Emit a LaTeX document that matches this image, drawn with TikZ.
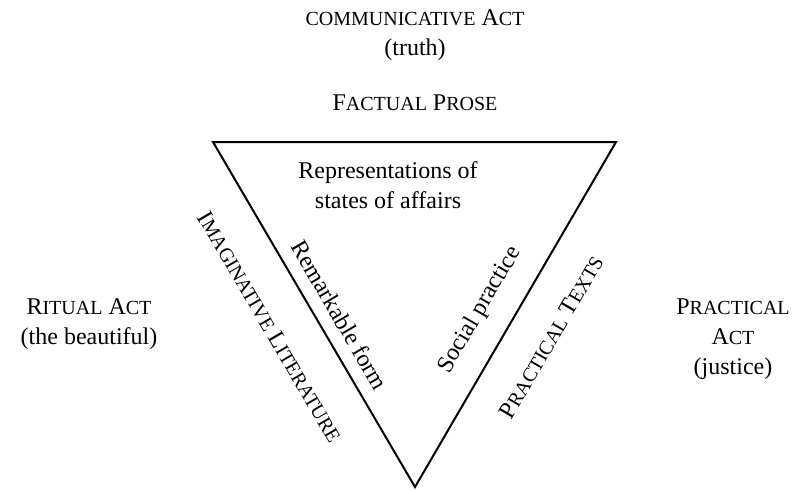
\documentclass[tikz,border=0pt]{standalone}
\usepackage{fontspec}
\setmainfont{Liberation Serif}
% small capitals built from reduced upper-case letters
\newcommand\sml[1]{{\fontsize{20}{30}\selectfont #1}}
\begin{document}
\begin{tikzpicture}[x=1pt,y=-1pt,
  lbl/.style={inner sep=0pt,align=center,font=\fontsize{24}{30}\selectfont},
  edge/.style={line width=2pt,line join=miter}]
\useasboundingbox (0,0) rectangle (795,490);
% triangle corners
\coordinate (tl) at (213,142);
\coordinate (tr) at (616,142);
\coordinate (bt) at (415,487);
\draw[edge] (tl) -- (tr) -- (bt) -- cycle;
% the three acts
\node[lbl] (comm) at (415,35) {\sml{COMMUNICATIVE} A\sml{CT}\\(truth)};
\node[lbl] (ritual) at (89,324) {R\sml{ITUAL} A\sml{CT}\\(the beautiful)};
\node[lbl] (pract) at (733,339) {P\sml{RACTICAL}\\A\sml{CT}\\(justice)};
% text kinds on the sides
\node[lbl] (fact) at (415,103) {F\sml{ACTUAL} P\sml{ROSE}};
\node[lbl,rotate=-59.7] (imag) at (270,327) {I\sml{MAGINATIVE} L\sml{ITERATURE}};
\node[lbl,rotate=59.7] (ptext) at (551,337) {P\sml{RACTICAL} T\sml{EXTS}};
% inner labels
\node[lbl] (repr) at (388,185) {Representations of\\states of affairs};
\node[lbl,rotate=-59.7] (form) at (340,315) {Remarkable form};
\node[lbl,rotate=59.7] (social) at (480,310) {Social practice};
\end{tikzpicture}
\end{document}
